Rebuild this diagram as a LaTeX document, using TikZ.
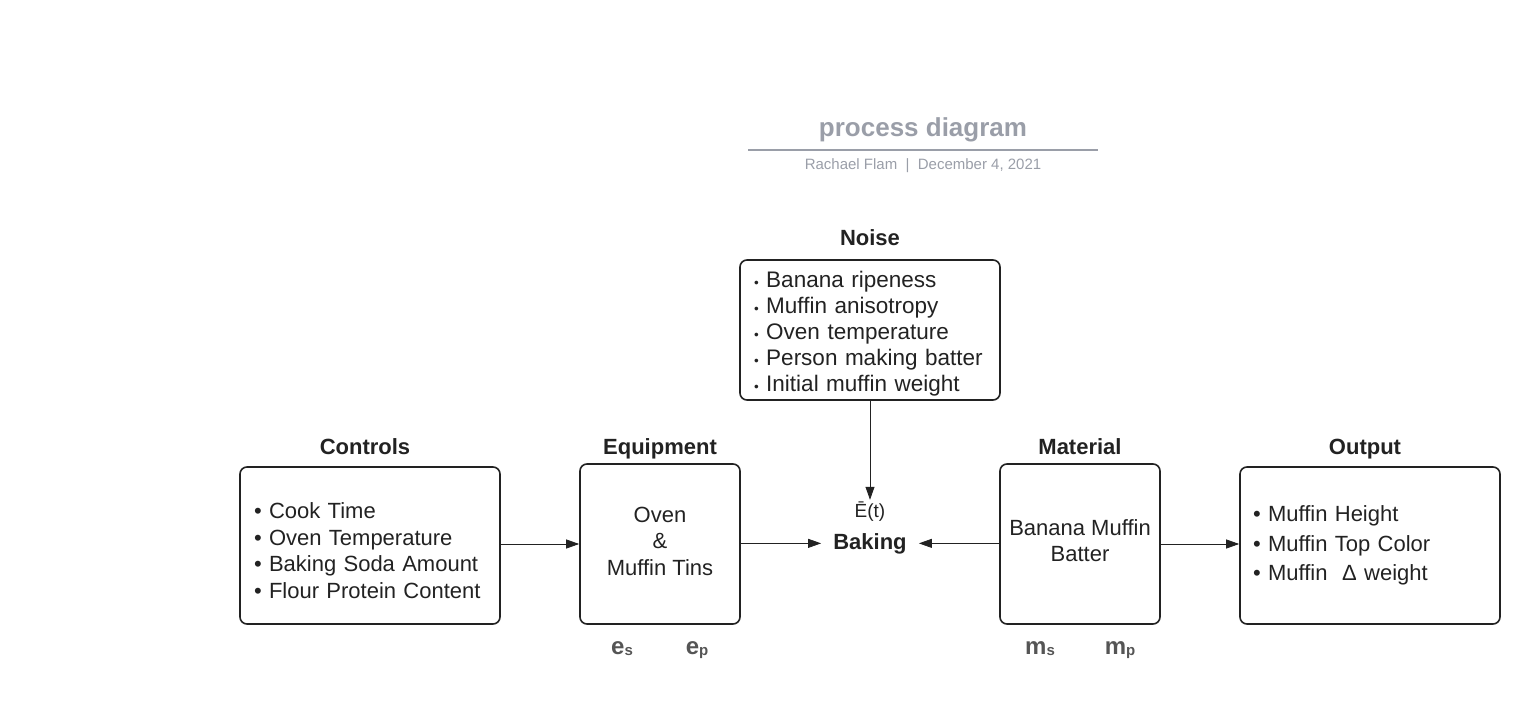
\documentclass[tikz,border=0pt]{standalone}
\usepackage{fontspec}
\setmainfont{Liberation Sans}
\usetikzlibrary{arrows.meta}
\definecolor{titlegray}{RGB}{154,158,168}
\definecolor{subgray}{RGB}{85,85,85}
\definecolor{ink}{RGB}{34,34,34}
\newcommand{\sz}[2]{\fontsize{#1}{#2}\selectfont}
\newcommand{\sub}[2]{{\bfseries\sz{24}{24}#1}\raisebox{-1pt}{\bfseries\sz{15}{15}#2}}
\newcommand{\dotb}{\scalebox{0.6}{•}}
\begin{document}
\begin{tikzpicture}[x=1pt,y=-1pt,
    box/.style={draw=ink,line width=1.6pt,rounded corners=7pt,text=ink},
    heading/.style={font=\bfseries\sz{22}{26},text=ink,anchor=base},
    arr/.style={-{Triangle[length=13pt,width=9pt]},draw=ink,line width=0.8pt}]
    \useasboundingbox (0,0) rectangle (1540,714);

    % title block
    \node [anchor=base,font=\bfseries\sz{26}{30},text=titlegray] (title) at (923,137) {process diagram};
    \draw[titlegray,line width=2pt] (748,150) -- (1098,150);
    \node [anchor=base,font=\sz{15}{18},text=titlegray] (byline) at (923,170) {Rachael Flam\ \ |\ \ December 4, 2021};

    % noise
    \node [heading] (noiselbl) at (870,246) {Noise};
    \node [box,minimum width=260pt,minimum height=140pt,inner xsep=14pt,inner ysep=2pt,text width=232pt,align=left,font=\sz{22.5}{26}] (noise) at (870,330)
    {\rule{0pt}{24.5pt}\dotb\ Banana ripeness\\\dotb\ Muffin anisotropy\\\dotb\ Oven temperature\\\dotb\ Person making batter\\\dotb\ Initial muffin weight};

    % the process
    \node [anchor=base,text=ink,font=\sz{19}{22}] (Et) at (870,517) {Ē(t)};
    \node [anchor=base,inner xsep=12pt,text=ink,font=\bfseries\sz{22}{26}] (baking) at (870,549) {Baking};

    % controls
    \node [heading] (ctrllbl) at (365,454) {Controls};
    \node [box,minimum width=260pt,minimum height=157pt,inner xsep=14pt,text width=232pt,align=left,font=\sz{22}{26.7}] (ctrl) at (370,545.5)
    {\rule{0pt}{26.5pt}•\ Cook Time\\•\ Oven Temperature\\•\ Baking Soda Amount\\•\ Flour Protein Content};

    % equipment
    \node [heading] (equiplbl) at (660,454) {Equipment};
    \node [box,minimum width=160pt,minimum height=160pt,align=center,font=\sz{22}{26.5}] (equip) at (660,544)
    {Oven\\\&\\Muffin Tins\rule[-6pt]{0pt}{0pt}};
    \node [anchor=base,text=subgray] (es) at (622,654) {\sub{e}{s}};
    \node [anchor=base,text=subgray] (ep) at (697,654) {\sub{e}{p}};

    % material
    \node [heading] (matlbl) at (1080,454) {Material};
    \node [box,minimum width=160pt,minimum height=160pt,align=center,font=\sz{22}{26.5}] (mat) at (1080,544)
    {Banana Muffin\\Batter\rule[-7pt]{0pt}{0pt}};
    \node [anchor=base,text=subgray] (ms) at (1040,654) {\sub{m}{s}};
    \node [anchor=base,text=subgray] (mp) at (1120,654) {\sub{m}{p}};

    % output
    \node [heading] (outlbl) at (1365,454) {Output};
    \node [box,minimum width=260pt,minimum height=157pt,inner xsep=13pt,text width=234pt,align=left,font=\sz{22}{29.5}] (out) at (1370,545.5)
    {•\ Muffin Height\\•\ Muffin Top Color\\•\ Muffin\ \ Δ weight};

    % connectors
    \draw [arr] (ctrl.east |- equip.west) -- (equip.west);
    \draw [arr] (equip.east |- baking.west) -- (baking.west);
    \draw [arr] (mat.west |- baking.east) -- (baking.east);
    \draw [arr] (mat.east) -- (out.west |- mat.east);
    \draw [arr,shorten >=-2pt] (noise.south) -- (Et.north);
\end{tikzpicture}
\end{document}
